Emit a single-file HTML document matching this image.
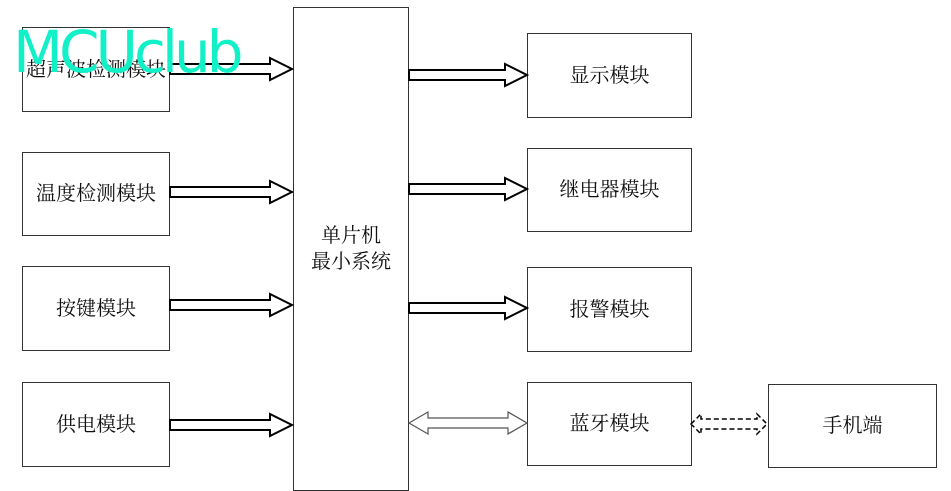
<!DOCTYPE html>
<html><head><meta charset="utf-8"><style>
body{margin:0;background:#fff;width:951px;height:491px;overflow:hidden;position:relative;font-family:"Liberation Serif","Noto Serif CJK SC",serif;}
.b{position:absolute;border:1.5px solid #333;box-sizing:border-box;display:flex;align-items:center;justify-content:center;font-size:20px;color:#111;text-align:center;line-height:26px}
svg{position:absolute;left:0;top:0}
.wm{position:absolute;left:13px;top:18px;font-family:"DejaVu Sans",sans-serif;font-size:58px;color:#12f0c8;letter-spacing:-4px}
</style></head><body>
<div class="b" style="left:22px;top:27px;width:148px;height:85px">超声波检测模块</div>
<div class="b" style="left:22px;top:152px;width:148px;height:84px">温度检测模块</div>
<div class="b" style="left:22px;top:266px;width:148px;height:85px">按键模块</div>
<div class="b" style="left:22px;top:382px;width:148px;height:85px">供电模块</div>
<div class="b" style="left:293px;top:7px;width:116px;height:484px">单片机<br>最小系统</div>
<div class="b" style="left:527px;top:33px;width:165px;height:85px">显示模块</div>
<div class="b" style="left:527px;top:148px;width:165px;height:84px">继电器模块</div>
<div class="b" style="left:527px;top:267px;width:165px;height:85px">报警模块</div>
<div class="b" style="left:527px;top:382px;width:165px;height:84px">蓝牙模块</div>
<div class="b" style="left:768px;top:384px;width:169px;height:84px">手机端</div>
<svg width="951" height="491">
<g fill="#fff" stroke="#000" stroke-width="2">
<path d="M170,64 H270 V58 L292,69 L270,80 V74 H170 Z"/>
<path d="M170,187 H270 V181 L292,192 L270,203 V197 H170 Z"/>
<path d="M170,300 H270 V294 L292,305 L270,316 V310 H170 Z"/>
<path d="M170,420 H270 V414 L292,425 L270,436 V430 H170 Z"/>
<path d="M409,70 H505 V64 L527,75 L505,86 V80 H409 Z"/>
<path d="M409,184 H505 V178 L527,189 L505,200 V194 H409 Z"/>
<path d="M409,303 H505 V297 L527,308 L505,319 V313 H409 Z"/>
</g>
<path d="M409,423 L428,412 V418 H508 V412 L527,423 L508,434 V428 H428 V434 Z" fill="#fff" stroke="#555" stroke-width="1.2"/>
<path d="M691,424 L701,414 V419 H757 V414 L767,424 L757,434 V429 H701 V434 Z" fill="#fff" stroke="#000" stroke-width="1.5" stroke-dasharray="5,3"/>
</svg>
<div class="wm">MCUclub</div>
</body></html>
